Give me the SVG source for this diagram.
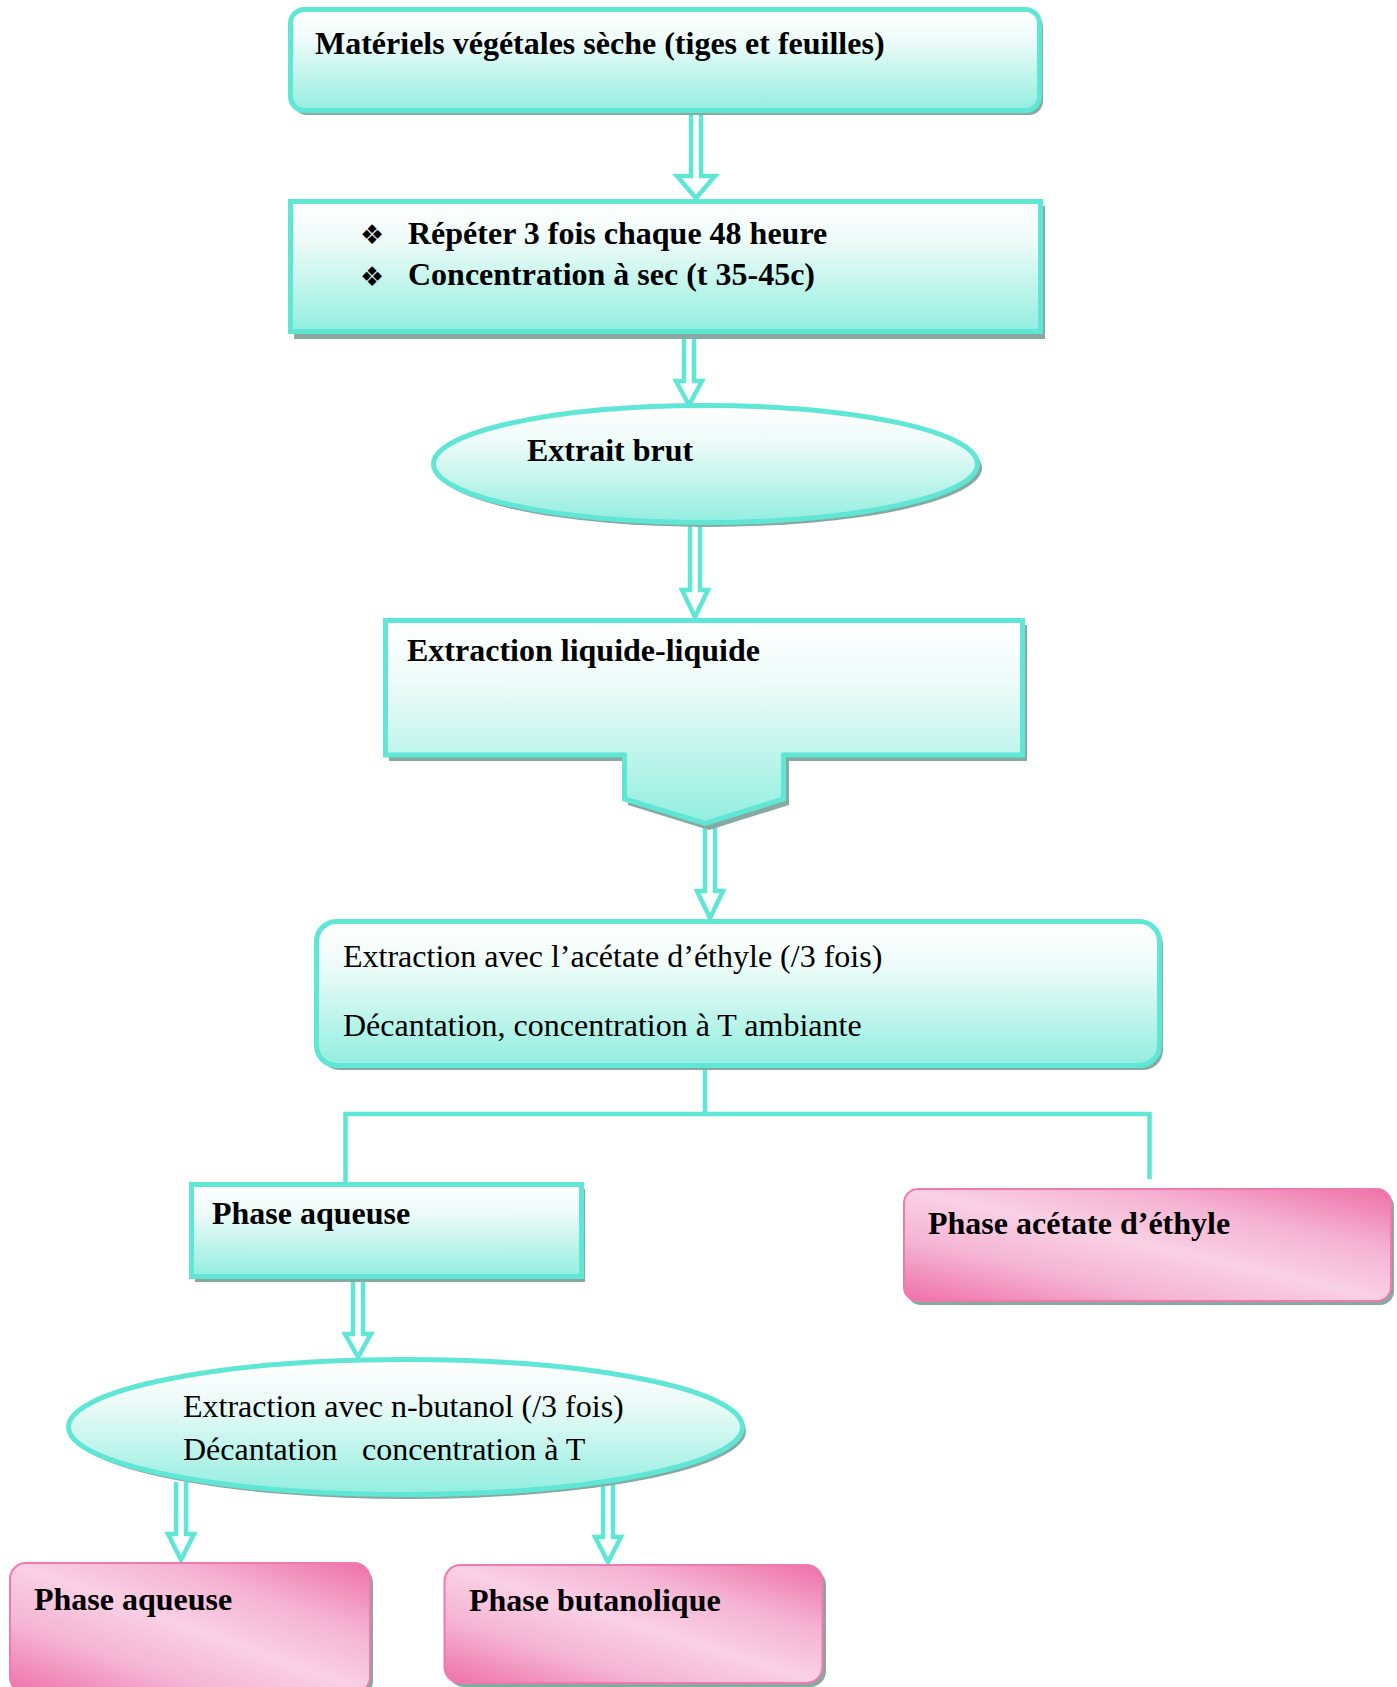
<svg xmlns="http://www.w3.org/2000/svg" width="1397" height="1687" viewBox="0 0 1397 1687">
<defs>
<linearGradient id="teal" x1="0" y1="0" x2="0" y2="1">
<stop offset="0" stop-color="#ffffff"/>
<stop offset="0.3" stop-color="#eefbf8"/>
<stop offset="1" stop-color="#92eedf"/>
</linearGradient>
<linearGradient id="pink" x1="1" y1="0" x2="0" y2="1">
<stop offset="0" stop-color="#ee6fa8"/>
<stop offset="0.28" stop-color="#f5b3d2"/>
<stop offset="0.5" stop-color="#f9d0e4"/>
<stop offset="0.72" stop-color="#f5b5d3"/>
<stop offset="1" stop-color="#ee6fa8"/>
</linearGradient>
<style>
.tb{fill:url(#teal);stroke:#5fe6d4;stroke-width:5}
.sh{fill:#86aaa2}
.pk{fill:url(#pink);stroke:#ee7aae;stroke-width:2}
.ar{fill:#ffffff;stroke:#5fe6d4;stroke-width:4.5;stroke-linejoin:miter}
.ln{fill:none;stroke:#5fe6d4;stroke-width:4.5}
.b{font-family:"Liberation Serif","Times New Roman",serif;font-weight:bold;font-size:32px;fill:#000}
.r{font-family:"Liberation Serif","Times New Roman",serif;font-size:32px;fill:#000}
.bu{font-family:"DejaVu Sans",sans-serif;font-size:27px;fill:#000}
</style>
</defs>

<g id="connectors">
<path class="ar" d="M691 112 V176 H677 L696 198 L715 176 H701 V112"/>
<path class="ar" d="M684 332 V381 H676 L689 405 L702 381 H694 V332"/>
<path class="ar" d="M690 519 V590 H682 L695 617 L708 590 H700 V519"/>
<path class="ar" d="M705 824 V891 H697 L710 918 L723 891 H715 V824"/>
<path class="ar" d="M353 1278 V1334 H345 L358 1357 L371 1334 H363 V1278"/>
<path class="ar" d="M176 1482 V1534 H168 L181 1560 L194 1534 H186 V1482"/>
<path class="ar" d="M603 1482 V1537 H595 L608 1562 L621 1537 H613 V1482"/>
<path class="ln" d="M705 1068 V1114 M345.5 1114 H1149.5 M345.5 1112 V1183 M1149.5 1112 V1179"/>
</g>

<g id="n1">
<rect class="sh" x="293" y="13" width="750" height="102" rx="14"/>
<rect class="tb" x="290.5" y="9.5" width="749" height="101" rx="14"/>
<text class="b" x="315" y="54">Matériels végétales sèche (tiges et feuilles)</text>
</g>

<g id="n2">
<rect class="sh" x="294" y="206" width="751" height="133"/>
<rect class="tb" x="290.5" y="201.5" width="750" height="130"/>
<text class="bu" x="360" y="244">❖</text>
<text class="b" x="408" y="243.5">Répéter 3 fois chaque 48 heure</text>
<text class="bu" x="360" y="286">❖</text>
<text class="b" x="408" y="285">Concentration à sec (t 35-45c)</text>
</g>

<g id="n3">
<ellipse class="sh" cx="709" cy="468" rx="273" ry="59"/>
<ellipse class="tb" cx="705.5" cy="464" rx="272" ry="58.5"/>
<text class="b" x="527" y="461">Extrait brut</text>
</g>

<g id="n4">
<path class="sh" d="M389 625 H1027 V761 H789 V805 L709 830 L628 805 V761 H389 Z"/>
<path class="tb" d="M385.5 620.5 H1022.5 V755 H783.5 V799 L705 823.5 L624.5 799 V755 H385.5 Z"/>
<text class="b" x="407" y="661">Extraction liquide-liquide</text>
</g>

<g id="n5">
<rect class="sh" x="320" y="925" width="843" height="145" rx="20"/>
<rect class="tb" x="316.5" y="921.5" width="843" height="144" rx="20"/>
<text class="r" x="343" y="967">Extraction avec l’acétate d’éthyle (/3 fois)</text>
<text class="r" x="343" y="1036">Décantation, concentration à T ambiante</text>
</g>

<g id="n6">
<rect class="sh" x="195" y="1189" width="390" height="93"/>
<rect class="tb" x="191.5" y="1184.5" width="390" height="92"/>
<text class="b" x="212" y="1224">Phase aqueuse</text>
</g>

<g id="n7">
<rect class="sh" x="907" y="1193" width="487" height="112" rx="14"/>
<rect class="pk" x="904" y="1189" width="487" height="112" rx="14"/>
<text class="b" x="928" y="1234">Phase acétate d’éthyle</text>
</g>

<g id="n8">
<ellipse class="sh" cx="409" cy="1431" rx="337" ry="68"/>
<ellipse class="tb" cx="405.5" cy="1427" rx="337" ry="67.5"/>
<text class="r" x="183" y="1417">Extraction avec n-butanol (/3 fois)</text>
<text class="r" x="183" y="1460">Décantation<tspan x="362">concentration à T</tspan></text>
</g>

<g id="n9">
<rect class="sh" x="13" y="1567" width="360" height="130" rx="16"/>
<rect class="pk" x="10" y="1563" width="360" height="130" rx="16"/>
<text class="b" x="34" y="1610">Phase aqueuse</text>
</g>

<g id="n10">
<rect class="sh" x="448" y="1569" width="378" height="118" rx="16"/>
<rect class="pk" x="444.5" y="1565" width="378" height="118" rx="16"/>
<text class="b" x="469" y="1611">Phase butanolique</text>
</g>
</svg>
